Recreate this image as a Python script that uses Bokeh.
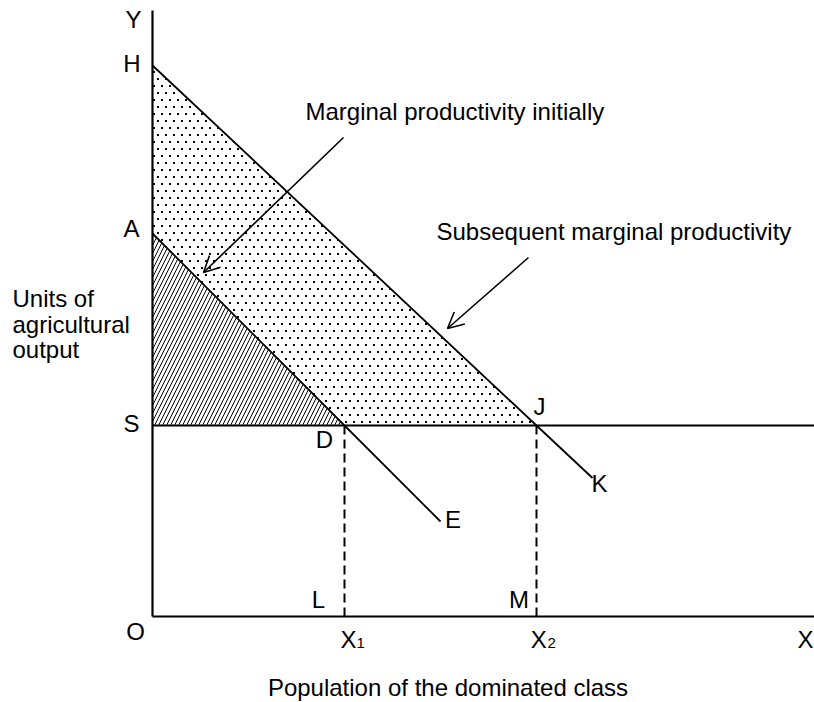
import base64
from bokeh.plotting import figure
from bokeh.models import Range1d, Arrow, OpenHead, ColumnDataSource, ImageURLTexture
from bokeh.core.properties import value
from bokeh.embed import file_html
from bokeh.resources import INLINE

# ---------------- data (diagram units) ----------------
y_axis_top = 606          # length of the Y axis
x_axis_right = 662        # length of the X axis

level_names = ["H", "A", "S"]
level_values = [551, 383, 191]   # H, A, S on the Y axis
H_level, A_level, S_level = level_values

X1 = 192                  # population X1 (point D / L)
X2 = 384                  # population X2 (point J / M)

# initial marginal productivity: A -> D -> E
mp_initial_x = [0, 192, 288]
mp_initial_y = [383, 191, 95]
# subsequent marginal productivity: H -> J -> K
mp_subsequent_x = [0, 384, 440]
mp_subsequent_y = [551, 191, 138.5]

# arrows from the annotations to the curves (start, tip)
arrow_initial = [(191, 479), (51, 344)]
arrow_subsequent = [(376, 359), (295, 288)]

annotations = ["Marginal productivity initially", "Subsequent marginal productivity"]
y_title_lines = ["Units of", "agricultural", "output"]
x_title = "Population of the dominated class"

# ---------------- figure ----------------
FONT = "Liberation Sans"
DY = 9  # vertical text correction
p = figure(width=814, height=702, x_range=Range1d(-152, 662), y_range=Range1d(-86, 616),
           output_backend="svg", toolbar_location=None, min_border=0,
           x_axis_location=None, y_axis_location=None)
p.grid.visible = False
p.outline_line_color = None
p.background_fill_color = "white"
p.border_fill_color = "white"

# stipple tile (small staggered dots)
tile_svg = ('<svg xmlns="http://www.w3.org/2000/svg" width="8" height="14" viewBox="0 0 8 14">'
            '<rect x="1" y="1" width="2" height="2" fill="black"/>'
            '<rect x="5" y="8" width="2" height="2" fill="black"/></svg>')
tile_url = "data:image/svg+xml;base64," + base64.b64encode(tile_svg.encode()).decode()
stipple = ImageURLTexture(url=tile_url)

# dotted area between the two curves above S  (H, J, D, A)
p.patch(x=[0, mp_subsequent_x[1], mp_initial_x[1], 0],
        y=[mp_subsequent_y[0], mp_subsequent_y[1], mp_initial_y[1], mp_initial_y[0]],
        fill_color=None, line_color=None,
        hatch_pattern="stipple", hatch_extra={"stipple": stipple}, hatch_color="black")

# hatched triangle A, D, S
p.patch(x=[0, mp_initial_x[1], 0],
        y=[mp_initial_y[0], mp_initial_y[1], S_level],
        fill_color=None, line_color=None,
        hatch_pattern="right_diagonal_line", hatch_scale=8,
        hatch_color="black", hatch_weight=1)

# axes
p.line([0, 0], [0, y_axis_top], line_color="black", line_width=2.2)
p.line([0, x_axis_right], [0, 0], line_color="black", line_width=2.2)
# subsistence line S
p.line([0, x_axis_right], [S_level, S_level], line_color="black", line_width=2)

# productivity curves
p.line(mp_initial_x, mp_initial_y, line_color="black", line_width=1.8)
p.line(mp_subsequent_x, mp_subsequent_y, line_color="black", line_width=1.8)

# dashed drops
p.segment(x0=[X1, X2], y0=[S_level, S_level], x1=[X1, X2], y1=[0, 0],
          line_color="black", line_width=2, line_dash="9 5")

# arrows
for (s, t) in (arrow_initial, arrow_subsequent):
    p.add_layout(Arrow(end=OpenHead(size=16, line_width=1.6, line_color="black"),
                       x_start=s[0], y_start=s[1], x_end=t[0], y_end=t[1],
                       line_width=1.6, line_color="black"))

# point labels
lab_y = [588, 544, 379, 184, -24, 168, 201, 88, 124, 8, 8, -32, -32, -32]
lab = ColumnDataSource(dict(
    x=[-19, -20.5, -21, -21, -17, 172, 387, 300.5, 447, 166, 366.5, 196, 386.3, 653],
    y=[v + DY for v in lab_y],
    t=["Y", level_names[0], level_names[1], level_names[2], "O", "D", "J", "E", "K",
       "L", "M", "X", "X", "X"]))
p.text(x="x", y="y", text="t", source=lab, text_font=value(FONT), text_font_size="24px",
       text_align="center", text_baseline="alphabetic", text_color="black")

# subscripts
p.text(x=[204, 395], y=[-35 + DY, -35 + DY], text=["1", "2"], text_font=value(FONT),
       text_font_size="15px", text_align="left", text_baseline="alphabetic", text_color="black")

# Y axis title (three lines)
p.text(x=[-140, -140, -140], y=[309 + DY, 283 + DY, 258 + DY], text=y_title_lines,
       text_font=value(FONT), text_font_size="24px", text_align="left",
       text_baseline="alphabetic", text_color="black")

# curve annotations
p.text(x=[153, 284], y=[496 + DY, 376 + DY], text=annotations, text_font=value(FONT),
       text_font_size="24px", text_align="left", text_baseline="alphabetic", text_color="black")

# X axis title
p.text(x=[295.5], y=[-80 + DY], text=[x_title], text_font=value(FONT), text_font_size="24px",
       text_align="center", text_baseline="alphabetic", text_color="black")

open("out.html", "w").write(file_html(p, INLINE))
